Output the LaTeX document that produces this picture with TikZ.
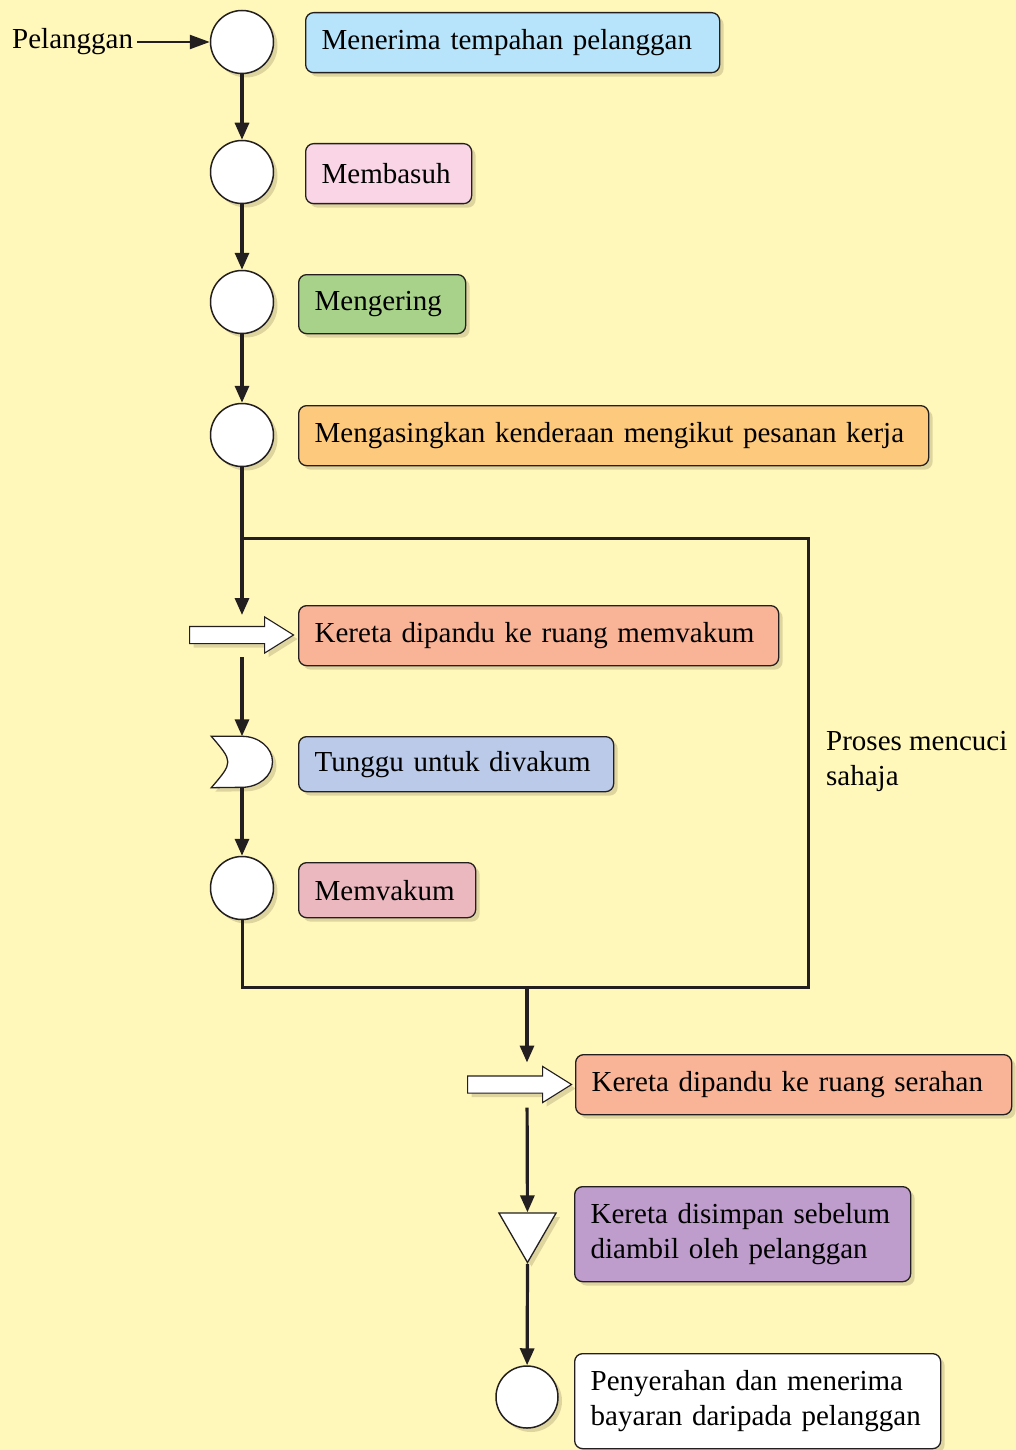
\documentclass[tikz,border=0pt]{standalone}
\usepackage{fontspec}
\setmainfont{Liberation Serif}
\usetikzlibrary{arrows.meta,shapes.geometric,shapes.arrows,shadows}

\definecolor{bgyellow}{RGB}{255,248,186}
\definecolor{ink}{RGB}{35,31,32}
\definecolor{shade}{RGB}{222,213,158}
\definecolor{cblue}{RGB}{183,228,250}
\definecolor{cpink}{RGB}{249,213,230}
\definecolor{cgreen}{RGB}{168,210,137}
\definecolor{corange}{RGB}{253,202,125}
\definecolor{csalmon}{RGB}{249,180,152}
\definecolor{cperi}{RGB}{186,202,232}
\definecolor{cmauve}{RGB}{235,184,192}
\definecolor{cpurple}{RGB}{190,156,204}

\tikzset{
  shd/.style={drop shadow={shadow xshift=4pt,shadow yshift=-4pt,fill=shade,opacity=1}},
  stn/.style={circle,draw=ink,line width=1.5pt,fill=white,minimum size=63pt,inner sep=0pt,shd},
  box/.style={draw=ink,line width=1.3pt,rounded corners=8pt,anchor=north west,align=left,inner xsep=16pt,inner ysep=0pt,shd},
  fat/.style={single arrow,draw=ink,line width=1.1pt,fill=white,inner xsep=0pt,inner ysep=8pt,minimum height=104pt,
    single arrow head extend=9.5pt,single arrow tip angle=64,anchor=tail,shd},
  symb/.style={draw=ink,line width=1.3pt,fill=white,shd},
  flow/.style={draw=ink,line width=3.2pt,-{Triangle[length=17pt,width=14pt]}},
  wire/.style={draw=ink,line width=3pt}
}

\begin{document}
\begin{tikzpicture}[x=1pt,y=1pt,yscale=-1,xscale=1,font=\fontsize{29}{35}\selectfont]
\fill [bgyellow] (0,0) rectangle (1016,1450);
\useasboundingbox (0,0) rectangle (1016,1450);

% Circles and symbols
\node [stn] (c1) at (242,42) {};
\node [stn] (c2) at (242,172) {};
\node [stn] (c3) at (242,302) {};
\node [stn] (c4) at (242,435) {};
\node [fat] (fa1) at (189,635) {};
\node [inner sep=0pt,minimum width=61pt,minimum height=51pt] (d6) at (242,762) {};
\draw [symb] (d6.north west) -- (d6.north) arc [start angle=-90,end angle=90,x radius=30.5pt,y radius=25.5pt]
  -- (d6.south west) .. controls ([xshift=22pt]d6.west) .. cycle;
\node [stn] (c7) at (242,888) {};
\node [fat] (fa2) at (467,1084.5) {};
\node [symb,regular polygon,regular polygon sides=3,shape border rotate=180,minimum size=66pt,inner sep=0pt] (tri) at (527.5,1229.5) {};
\node [stn,minimum size=62pt] (c10) at (527,1397) {};

% Text Node
\node [anchor=west,inner sep=0pt] (pel) at (12,42) {Pelanggan};
\node [box,fill=cblue,text width=382pt,minimum height=60pt] (t1) at (305,12) {Menerima tempahan pelanggan};
\node [box,fill=cpink,text width=134pt,minimum height=60pt] (t2) at (305,143) {Membasuh};
\node [box,fill=cgreen,text width=135pt,minimum height=59pt] (t3) at (298,274) {Mengering};
\node [box,fill=corange,text width=598pt,minimum height=60pt] (t4) at (298,405) {Mengasingkan kenderaan mengikut pesanan kerja};
\node [box,fill=csalmon,text width=448pt,minimum height=60pt] (t5) at (298,605) {Kereta dipandu ke ruang memvakum};
\node [box,fill=cperi,text width=283pt,minimum height=55pt] (t6) at (298,736) {Tunggu untuk divakum};
\node [box,fill=cmauve,text width=145pt,minimum height=55pt] (t7) at (298,862) {Memvakum};
\node [box,fill=csalmon,text width=404pt,minimum height=60pt] (t8) at (575,1054) {Kereta dipandu ke ruang serahan};
\node [box,fill=cpurple,text width=304pt,minimum height=95pt] (t9) at (574,1186) {Kereta disimpan sebelum\\diambil oleh pelanggan};
\node [box,fill=white,text width=334pt,minimum height=95pt] (t10) at (574,1353) {Penyerahan dan menerima\\bayaran daripada pelanggan};
\node [anchor=west,align=left,inner sep=0pt] (lbl) at (826,761) {Proses mencuci\\sahaja};

% Loop corners
\coordinate (jt) at (242,538);
\coordinate (rb) at (808,987);
\coordinate (jb) at (527,987);

% Straight Lines
\draw [flow,line width=2.4pt,-{Triangle[length=20pt,width=14pt]},shorten <=4pt] (pel) -- (c1);
\draw [flow] (c1) -- (c2);
\draw [flow] (c2) -- (c3);
\draw [flow] (c3) -- (c4);
\draw [flow,shorten >=20pt] (c4) -- (c4 |- fa1.tail);
\draw [flow,shorten <=22pt] (c4 |- fa1.tail) -- (d6);
\draw [flow] (d6) -- (c7);
\draw [wire] (c7) |- (rb) |- (jt);
\draw [flow,shorten >=22pt] (jb) -- (jb |- fa2.tail);
\draw [flow,shorten <=23pt] (jb |- fa2.tail) -- (tri);
\draw [flow] (tri.corner 1) -- (c10);

\end{tikzpicture}
\end{document}
